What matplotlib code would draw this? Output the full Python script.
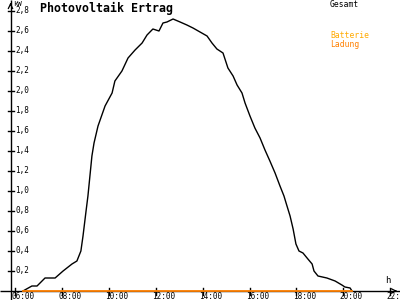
import matplotlib
matplotlib.use("Agg")
import matplotlib.pyplot as plt

# Data
hours = [6.34, 6.72, 6.94, 7.28, 7.71, 8.05, 8.43, 8.64, 8.81, 8.90, 9.03, 9.11,
         9.28, 9.37, 9.54, 9.84, 10.14, 10.26, 10.56, 10.82, 11.12, 11.42, 11.63,
         11.88, 12.14, 12.31, 12.48, 12.74, 13.04, 13.33, 13.59, 13.89, 14.19,
         14.40, 14.61, 14.87, 15.08, 15.30, 15.47, 15.68, 15.81, 16.02, 16.23,
         16.45, 16.66, 16.87, 17.09, 17.30, 17.47, 17.56, 17.73, 17.86, 17.98,
         18.11, 18.28, 18.49, 18.67, 18.75, 18.92, 19.30, 19.65, 19.94, 20.07,
         20.29, 20.37]
gesamt = [0.0, 0.05, 0.05, 0.13, 0.13, 0.20, 0.27, 0.30, 0.40, 0.55, 0.80, 0.95,
          1.35, 1.48, 1.65, 1.85, 1.98, 2.10, 2.20, 2.33, 2.41, 2.48, 2.56,
          2.62, 2.60, 2.68, 2.69, 2.72, 2.69, 2.66, 2.63, 2.59, 2.55,
          2.48, 2.42, 2.38, 2.23, 2.15, 2.06, 1.98, 1.88, 1.75, 1.63,
          1.53, 1.41, 1.30, 1.18, 1.05, 0.95, 0.88, 0.75, 0.62, 0.47,
          0.40, 0.38, 0.32, 0.27, 0.20, 0.15, 0.13, 0.10, 0.06, 0.04,
          0.03, 0.0]
batterie = [0.0] * len(hours)
xticks = [6, 8, 10, 12, 14, 16, 18, 20, 22]
xticklabels = ["06:00", "08:00", "10:00", "12:00", "14:00", "16:00", "18:00", "20:00", "22:"]
yticks = [0.2, 0.4, 0.6, 0.8, 1.0, 1.2, 1.4, 1.6, 1.8, 2.0, 2.2, 2.4, 2.6, 2.8]
yticklabels = ["0,2", "0,4", "0,6", "0,8", "1,0", "1,2", "1,4", "1,6", "1,8",
               "2,0", "2,2", "2,4", "2,6", "2,8"]

PXH = 23.45   # px per hour
PXK = 100.0   # px per kW
x0px, y0px = 15.0, 291.0
xmin = 6 - x0px / PXH
xmax = 6 + (400 - x0px) / PXH
ymin = -(300 - y0px) / PXK
ymax = y0px / PXK

fig = plt.figure(figsize=(4, 3), dpi=100)
ax = fig.add_axes([0, 0, 1, 1])
ax.set_xlim(xmin, xmax)
ax.set_ylim(ymin, ymax)
ax.axis("off")

mono = "DejaVu Sans Mono"
yax = 6 + (10.5 - x0px) / PXH

# axes lines
ax.plot([xmin, xmax], [0, 0], color="black", lw=1.0, solid_capstyle="butt")
ax.plot([yax, yax], [ymin, ymax], color="black", lw=1.0, solid_capstyle="butt")
ax.annotate("", xy=(xmax, 0), xytext=(xmax - 8 / PXH, 0),
            arrowprops=dict(arrowstyle="->", color="black", lw=0.9, mutation_scale=8))
ax.annotate("", xy=(yax, ymax), xytext=(yax, ymax - 8 / PXK),
            arrowprops=dict(arrowstyle="->", color="black", lw=0.9, mutation_scale=8))

# ticks
for t, lab in zip(xticks, xticklabels):
    ax.plot([t, t], [3.5 / PXK, -3.5 / PXK], color="black", lw=1.0)
    ax.text(t - 3.5 / PXH, -5.3 / PXK, lab, fontsize=5.5, family=mono,
            ha="left", va="center")
for t, lab in zip(yticks, yticklabels):
    ax.plot([yax - 3 / PXH, yax + 3 / PXH], [t, t], color="black", lw=1.0)
    ax.text(yax + 5 / PXH, t, lab, fontsize=5.5, family=mono,
            ha="left", va="center")

ax.text(yax + 3 / PXH, ymax - 4 / PXK, "kW", fontsize=5.2, family=mono,
        ha="left", va="center")
ax.text(xmax - 15 / PXH, 6 / PXK, "h", fontsize=6.5, family=mono,
        ha="left", va="bottom")

# series
ax.plot(hours, gesamt, color="black", lw=1.0)
ax.plot(hours, batterie, color="#FF8000", lw=1.3)

# title and legend
fig.text(40 / 400, 1 - 8 / 300, "Photovoltaik Ertrag", fontsize=8.4, family=mono,
         weight="bold", ha="left", va="center")
fig.text(330 / 400, 1 - 4.5 / 300, "Gesamt", fontsize=5.8, family=mono,
         ha="left", va="center")
fig.text(330 / 400, 1 - 36 / 300, "Batterie", fontsize=5.8, family=mono,
         color="#FFAA00", ha="left", va="center")
fig.text(330 / 400, 1 - 44.5 / 300, "Ladung", fontsize=5.8, family=mono,
         color="#FF8000", ha="left", va="center")

fig.savefig("out.png", dpi=100)
